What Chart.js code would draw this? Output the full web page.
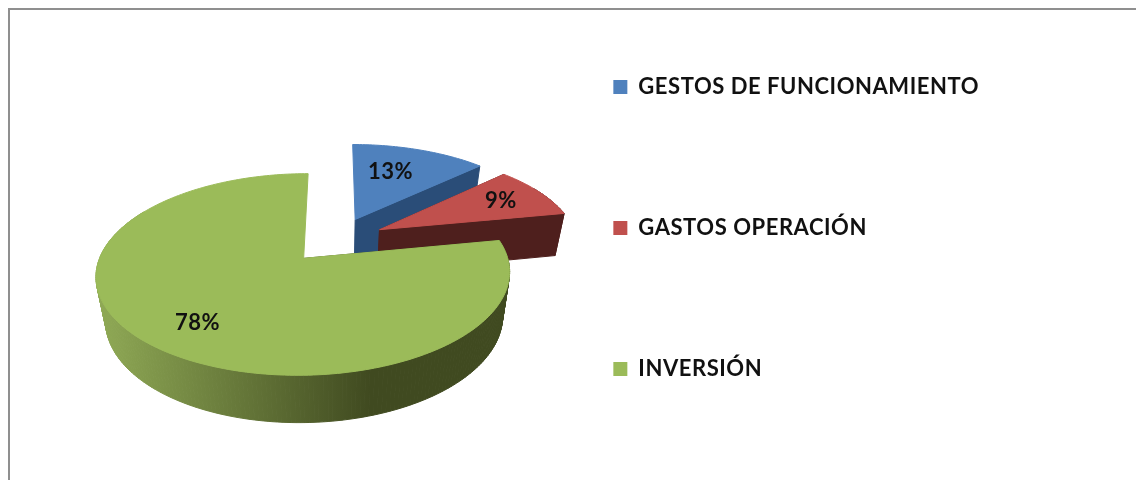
<!DOCTYPE html>
<html>
<head>
<meta charset="utf-8">
<script src="https://cdn.jsdelivr.net/npm/chart.js@4"></script>
<style>
  html, body { margin: 0; background: #fff; overflow: hidden; }
  #frame { position: absolute; left: 8px; top: 8px; right: 0; bottom: 0;
           border-left: 2px solid #8f8f8f; border-top: 2px solid #8f8f8f; }
  canvas { position: absolute; left: 0; top: 0; }
</style>
</head>
<body>
<div id="frame"></div>
<canvas id="pieChart" width="1136" height="480"></canvas>
<script>
const categories = ['GESTOS DE FUNCIONAMIENTO', 'GASTOS OPERACIÓN', 'INVERSIÓN'];
const shares = [13, 9, 78];
const topColors = ['#4f81bd', '#c0504d', '#9bbb59'];
const rimColors = [['#2a4d78', '#2a4d78'], ['#4e1f1d', '#4e1f1d'], ['#8fa955', '#404a20']];
const labelReach = [0.66, 0.75, 0.77];
const labelNudgeX = [-9, 0, 8];

// look of the tilted pie
const TILT = 0.467;        // height / width of the disc
const PERSPECTIVE = 0.155;
const EXPLODE = 0.25;      // slice pull-out, as part of the radius
const DEPTH = 43;
const BASE_SCALE = 0.96;
const LEGEND_TOP = -43;    // first row sits at this + labels.padding
const TEXT_SPACING = '0.55px';

// Chart.js has no 3D pie: the arcs keep their angles from the library, this plugin projects them
const pie3d = {
  id: 'pie3d',
  beforeLayout(chart) {
    chart.ctx.letterSpacing = TEXT_SPACING;
    // the legend wraps into columns and caps its width too early for this wide spacing
    const legend = chart.legend;
    if (legend.roomy) return;
    legend.roomy = true;
    const update = legend.update;
    legend.update = function (w, h, margins) {
      return update.call(this, w * 2, h * 2, margins);
    };
  },
  afterLayout(chart) {
    chart.legend.top = LEGEND_TOP;
    chart.legend.bottom = 2 * chart.height;
  },
  beforeDatasetDraw(chart, args) {
    const ctx = chart.ctx;
    const arcs = args.meta.data.map(el => el.getProps(['x', 'y', 'startAngle', 'endAngle', 'outerRadius'], true));
    const cx = arcs[0].x, cy = arcs[0].y, R = arcs[0].outerRadius;

    const top = (u, v) => {
      const d = 1 - PERSPECTIVE * v;
      return [cx + R * u / d, cy + R * TILT * v / d];
    };
    const base = (u, v) => {
      const p = top(u, v);
      const d = 1 - PERSPECTIVE * v;
      return [cx + (p[0] - cx) * BASE_SCALE, cy + (p[1] - cy) * BASE_SCALE + DEPTH / d];
    };
    const fillPoly = (pts, fill) => {
      ctx.beginPath();
      pts.forEach((p, i) => i ? ctx.lineTo(p[0], p[1]) : ctx.moveTo(p[0], p[1]));
      ctx.closePath();
      ctx.fillStyle = fill;
      ctx.strokeStyle = fill;
      ctx.lineWidth = 1;
      ctx.fill();
      ctx.stroke();
    };

    arcs.forEach((arc, i) => {
      const mid = (arc.startAngle + arc.endAngle) / 2;
      const ox = EXPLODE * Math.cos(mid), oy = EXPLODE * Math.sin(mid);
      const outline = [[ox, oy]];
      const steps = Math.ceil((arc.endAngle - arc.startAngle) / 0.02);
      for (let s = 0; s <= steps; s++) {
        const a = arc.startAngle + (arc.endAngle - arc.startAngle) * s / steps;
        outline.push([ox + Math.cos(a), oy + Math.sin(a)]);
      }

      const rim = ctx.createLinearGradient(100, 0, 370, 0);
      rim.addColorStop(0, rimColors[i][0]);
      rim.addColorStop(1, rimColors[i][1]);
      outline.forEach((q, n) => {
        const last = n === outline.length - 1;
        const r = outline[(n + 1) % outline.length];
        // back of the rim is out of sight
        if (n > 0 && !last && q[1] - oy < -0.5) return;
        const a = top(q[0], q[1]), b = top(r[0], r[1]);
        // upright cut faces stay hidden, as in the original
        if (Math.abs(a[0] - b[0]) < 5 && Math.abs(a[1] - b[1]) > 40) return;
        fillPoly([a, b, base(r[0], r[1]), base(q[0], q[1])], rim);
      });

      fillPoly(outline.map(q => top(q[0], q[1])), topColors[i]);
    });

    ctx.save();
    ctx.font = 'bold 22px Lato';
    ctx.fillStyle = '#111';
    ctx.textAlign = 'center';
    ctx.textBaseline = 'middle';
    arcs.forEach((arc, i) => {
      const mid = (arc.startAngle + arc.endAngle) / 2;
      const k = EXPLODE + labelReach[i];
      const p = top(k * Math.cos(mid), k * Math.sin(mid));
      ctx.fillText(shares[i] + '%', p[0] + labelNudgeX[i], p[1]);
    });
    ctx.restore();
    return false;
  }
};

new Chart(document.getElementById('pieChart').getContext('2d'), {
  type: 'pie',
  data: {
    labels: categories,
    datasets: [{
      data: shares,
      backgroundColor: topColors,
      borderWidth: 0,
      radius: 198
    }]
  },
  options: {
    responsive: false,
    animation: false,
    layout: { padding: { left: 178, right: 147 } },
    plugins: {
      legend: {
        position: 'right',
        align: 'start',
        labels: {
          boxWidth: 14,
          boxHeight: 14,
          padding: 119,
          color: '#111',
          font: { family: 'Lato', size: 22, weight: 'bold' }
        }
      },
      tooltip: { enabled: false }
    }
  },
  plugins: [pie3d]
});
</script>
</body>
</html>
